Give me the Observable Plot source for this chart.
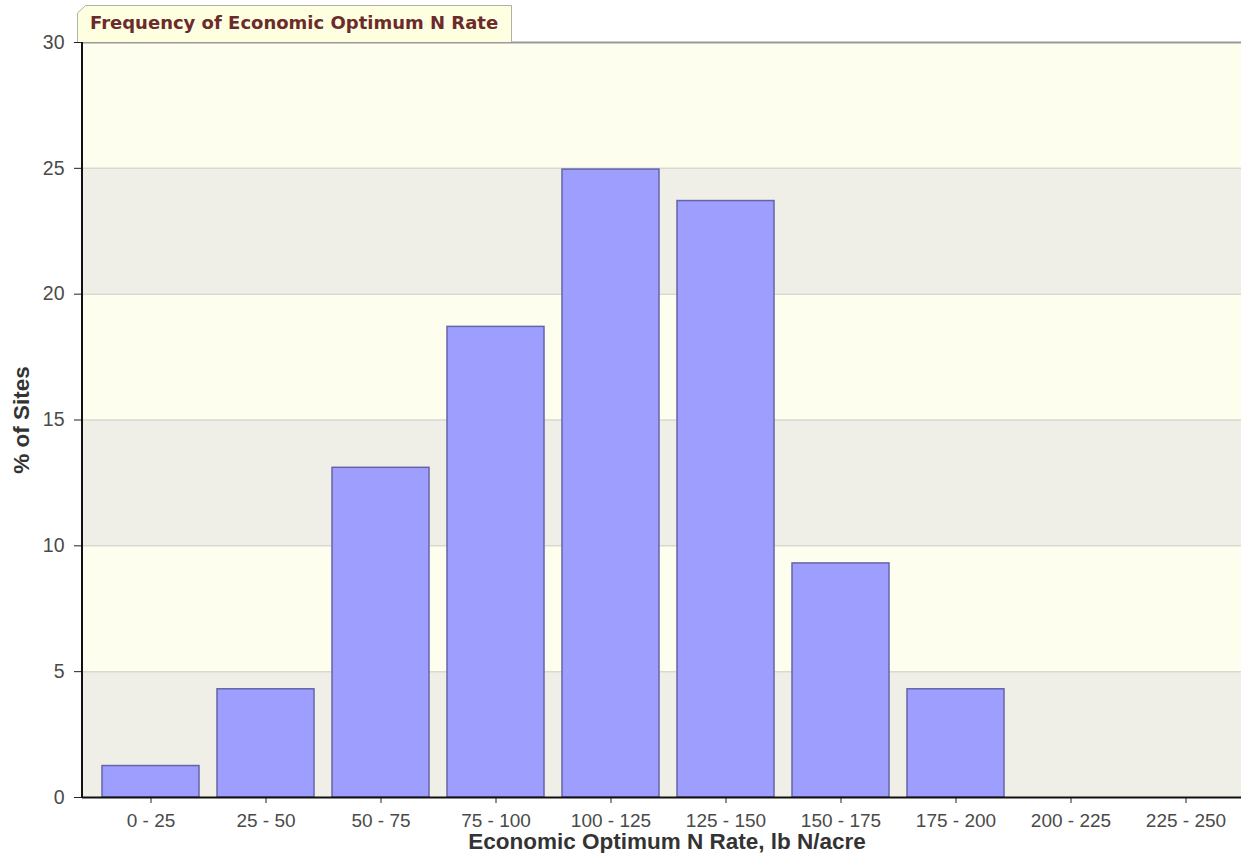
<!DOCTYPE html>
<html>
<head>
<meta charset="utf-8">
<script src="https://cdn.jsdelivr.net/npm/d3@7"></script>
<script src="https://cdn.jsdelivr.net/npm/@observablehq/plot@0.6"></script>
<style>
  html, body { margin: 0; padding: 0; background: #fff; }
  #wrap { position: relative; width: 1241px; height: 853px; overflow: hidden; }
  #tab { position: absolute; left: 0; top: 0; }
</style>
</head>
<body>
<div id="wrap"></div>
<script>
const categories = ["0 - 25", "25 - 50", "50 - 75", "75 - 100", "100 - 125", "125 - 150", "150 - 175", "175 - 200", "200 - 225", "225 - 250"];
const percentSites = [1.25, 4.3, 13.1, 18.7, 24.95, 23.7, 9.3, 4.3, 0, 0];
const yTicks = [0, 5, 10, 15, 20, 25, 30];
const bandLows = [0, 5, 10, 15, 20, 25];
const bandFills = ["#f0efe7", "#fefeef", "#f0efe7", "#fefeef", "#f0efe7", "#fefeef"];
const titleText = "Frequency of Economic Optimum N Rate";
const xTitle = "Economic Optimum N Rate, lb N/acre";
const yTitle = "% of Sites";

const data = categories.map((c, i) => ({ cat: c, v: percentSites[i] }));
const bands = bandLows.map((lo, i) => ({ y1: lo, y2: lo + 5, fill: bandFills[i] }));

const font = "'Liberation Sans', Arial, sans-serif";
const titleFont = "'DejaVu Sans', Verdana, sans-serif";

const chart = Plot.plot({
  width: 1241,
  height: 853,
  marginLeft: 82,
  marginRight: 0,
  marginTop: 42,
  marginBottom: 56,
  style: { fontFamily: font, fontSize: "19px", background: "transparent", color: "#4a4a4a" },
  x: { domain: categories, range: [90.25, 1245.25], paddingInner: 0.16, paddingOuter: 0.08, label: null },
  y: { domain: [0, 30], label: null },
  marks: [
    Plot.rect(bands, { y1: "y1", y2: "y2", fill: "fill" }),
    Plot.ruleY([5, 10, 15, 20, 25], { stroke: "#d9d9d2", strokeWidth: 1.5 }),
    Plot.ruleY([30], { stroke: "#999", strokeWidth: 2 }),
    Plot.barY(data, { x: "cat", y: "v", fill: "#9e9eff", stroke: "#6464a8", strokeWidth: 1.5 }),
    Plot.axisY({ ticks: yTicks, tickSize: 8, tickPadding: 10, stroke: "#222", fill: "#4a4a4a", fontSize: 19.5 }),
    Plot.axisX({ tickSize: 6, tickPadding: 10, stroke: "#222", fill: "#4a4a4a", fontSize: 19 }),
    Plot.ruleY([0], { stroke: "#111", strokeWidth: 2 }),
    Plot.text([xTitle], { frameAnchor: "bottom", textAnchor: "middle", lineAnchor: "middle", dx: 5, dy: 44, fill: "#333", fontWeight: "bold", fontSize: 22.5, text: d => d }),
    Plot.text([yTitle], { frameAnchor: "left", textAnchor: "middle", lineAnchor: "middle", dx: -60.5, rotate: -90, fill: "#333", fontWeight: "bold", fontSize: 22.5, text: d => d })
  ]
});

// left axis line
const svg = d3.select(chart);
svg.append("line").attr("x1", 82).attr("x2", 82).attr("y1", 42).attr("y2", 798)
  .attr("stroke", "#111").attr("stroke-width", 2);

document.getElementById("wrap").appendChild(chart);

// Title tab
const ns = "http://www.w3.org/2000/svg";
const tab = document.createElementNS(ns, "svg");
tab.setAttribute("id", "tab");
tab.setAttribute("width", 600);
tab.setAttribute("height", 50);
tab.innerHTML = `<path d="M77.5,42 L77.5,13 L85.5,5.5 L511.5,5.5 L511.5,42" fill="#fefee0" stroke="#b0b0a8" stroke-width="1"/>
<text x="90" y="29" fill="#6b2b2b" font-family="${titleFont}" font-weight="bold" font-size="18px"></text>`;
tab.querySelector("text").textContent = titleText;
document.getElementById("wrap").appendChild(tab);
</script>
</body>
</html>
